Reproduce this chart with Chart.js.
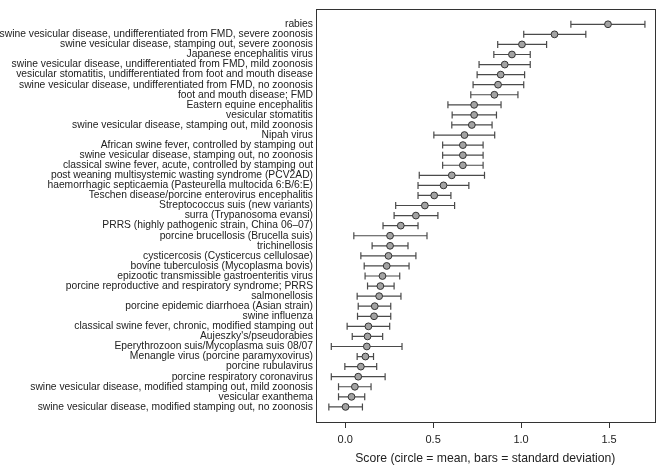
<!DOCTYPE html>
<html><head><meta charset="utf-8">
<script src="https://cdn.jsdelivr.net/npm/chart.js@4/dist/chart.umd.min.js"></script>
<style>html,body{margin:0;padding:0;background:#fff}#wrap{width:659px;height:467px;position:relative}</style>
</head><body><div id="wrap"><canvas id="c"></canvas></div>
<script>
const categories = [
  "rabies",
  "swine vesicular disease, undifferentiated from FMD, severe zoonosis",
  "swine vesicular disease, stamping out, severe zoonosis",
  "Japanese encephalitis virus",
  "swine vesicular disease, undifferentiated from FMD, mild zoonosis",
  "vesicular stomatitis, undifferentiated from foot and mouth disease",
  "swine vesicular disease, undifferentiated from FMD, no zoonosis",
  "foot and mouth disease; FMD",
  "Eastern equine encephalitis",
  "vesicular stomatitis",
  "swine vesicular disease, stamping out, mild zoonosis",
  "Nipah virus",
  "African swine fever, controlled by stamping out",
  "swine vesicular disease, stamping out, no zoonosis",
  "classical swine fever, acute, controlled by stamping out",
  "post weaning multisystemic wasting syndrome (PCV2AD)",
  "haemorrhagic septicaemia (Pasteurella multocida 6:B/6:E)",
  "Teschen disease/porcine enterovirus encephalitis",
  "Streptococcus suis (new variants)",
  "surra (Trypanosoma evansi)",
  "PRRS (highly pathogenic strain, China 06\u201307)",
  "porcine brucellosis (Brucella suis)",
  "trichinellosis",
  "cysticercosis (Cysticercus cellulosae)",
  "bovine tuberculosis (Mycoplasma bovis)",
  "epizootic transmissible gastroenteritis virus",
  "porcine reproductive and respiratory syndrome; PRRS",
  "salmonellosis",
  "porcine epidemic diarrhoea (Asian strain)",
  "swine influenza",
  "classical swine fever, chronic, modified stamping out",
  "Aujeszky's/pseudorabies",
  "Eperythrozoon suis/Mycoplasma suis 08/07",
  "Menangle virus (porcine paramyxovirus)",
  "porcine rubulavirus",
  "porcine respiratory coronavirus",
  "swine vesicular disease, modified stamping out, mild zoonosis",
  "vesicular exanthema",
  "swine vesicular disease, modified stamping out, no zoonosis"
];
const means = [1.494,1.190,1.005,0.948,0.907,0.884,0.869,0.848,0.733,0.733,0.720,0.678,0.669,0.669,0.669,0.606,0.559,0.506,0.453,0.402,0.316,0.255,0.255,0.246,0.236,0.212,0.200,0.193,0.168,0.164,0.132,0.127,0.123,0.115,0.089,0.074,0.055,0.036,0.002];
const lows  = [1.283,1.015,0.867,0.845,0.761,0.750,0.727,0.714,0.584,0.608,0.606,0.504,0.554,0.554,0.554,0.421,0.414,0.414,0.287,0.278,0.215,0.049,0.153,0.089,0.108,0.113,0.127,0.068,0.074,0.070,0.011,0.040,-0.079,0.068,-0.002,-0.079,-0.038,-0.038,-0.093];
const highs = [1.704,1.368,1.145,1.052,1.052,1.020,1.015,0.982,0.886,0.860,0.835,0.850,0.784,0.784,0.784,0.792,0.703,0.601,0.622,0.527,0.414,0.465,0.357,0.402,0.363,0.310,0.278,0.317,0.259,0.259,0.253,0.213,0.323,0.161,0.179,0.227,0.147,0.111,0.098];
const xTicks = [0, 0.5, 1.0, 1.5];
const xTitle = "Score (circle = mean, bars = standard deviation)";

const FONT = "'Liberation Sans', Arial, Helvetica, sans-serif";

const errorBars = {
  id: 'errorBars',
  beforeDatasetsDraw(chart) {
    const ctx = chart.ctx, xs = chart.scales.x, ys = chart.scales.y;
    ctx.save();
    ctx.strokeStyle = '#4a4a4a';
    ctx.lineWidth = 1.2;
    for (let i = 0; i < means.length; i++) {
      const y = ys.getPixelForValue(i);
      const x1 = xs.getPixelForValue(lows[i]);
      const x2 = xs.getPixelForValue(highs[i]);
      ctx.beginPath();
      ctx.moveTo(x1, y); ctx.lineTo(x2, y);
      ctx.moveTo(x1, y - 3.5); ctx.lineTo(x1, y + 3.5);
      ctx.moveTo(x2, y - 3.5); ctx.lineTo(x2, y + 3.5);
      ctx.stroke();
    }
    ctx.restore();
  }
};
const frame = {
  id: 'frame',
  afterDraw(chart) {
    const a = chart.chartArea, ctx = chart.ctx;
    ctx.save();
    ctx.strokeStyle = '#333';
    ctx.lineWidth = 1;
    ctx.strokeRect(Math.round(a.left) + 0.5, Math.round(a.top) + 0.5, Math.round(a.right - a.left), Math.round(a.bottom - a.top));
    ctx.restore();
  }
};

new Chart(document.getElementById('c'), {
  type: 'scatter',
  data: {
    datasets: [{
      data: means.map((m, i) => ({x: m, y: i})),
      pointRadius: 3.4,
      pointHoverRadius: 3.4,
      pointBackgroundColor: '#a3a3a3',
      pointBorderColor: '#333',
      pointBorderWidth: 1
    }]
  },
  options: {
    responsive: true,
    maintainAspectRatio: false,
    animation: false,
    events: [],
    layout: {padding: {top: 0, right: 3, left: 0, bottom: 0}},
    plugins: {legend: {display: false}, tooltip: {enabled: false}},
    scales: {
      x: {
        type: 'linear',
        min: -0.166, max: 1.759,
        afterBuildTicks: s => { s.ticks = xTicks.map(v => ({value: v})); },
        afterFit: s => { s.height = 45; },
        border: {display: false},
        grid: {drawOnChartArea: false, drawTicks: true, tickLength: 6, color: '#333', tickColor: '#333'},
        ticks: {
          color: '#222', padding: 5,
          font: {family: FONT, size: 11},
          callback: v => Number(v).toFixed(1),
          maxRotation: 0
        },
        title: {display: true, text: xTitle, color: '#222', font: {family: FONT, size: 12.2}, padding: {top: 4, bottom: 1}}
      },
      y: {
        type: 'linear',
        reverse: true,
        min: -1.5, max: 39.5,
        afterBuildTicks: s => { s.ticks = categories.map((c, i) => ({value: i})); },
        afterFit: s => { s.width = 316; },
        border: {display: false},
        grid: {display: false, drawTicks: false},
        ticks: {
          color: '#222', padding: 3, autoSkip: false,
          font: {family: FONT, size: 10.3},
          callback: v => categories[v]
        }
      }
    }
  },
  plugins: [errorBars, frame]
});
</script></body></html>
